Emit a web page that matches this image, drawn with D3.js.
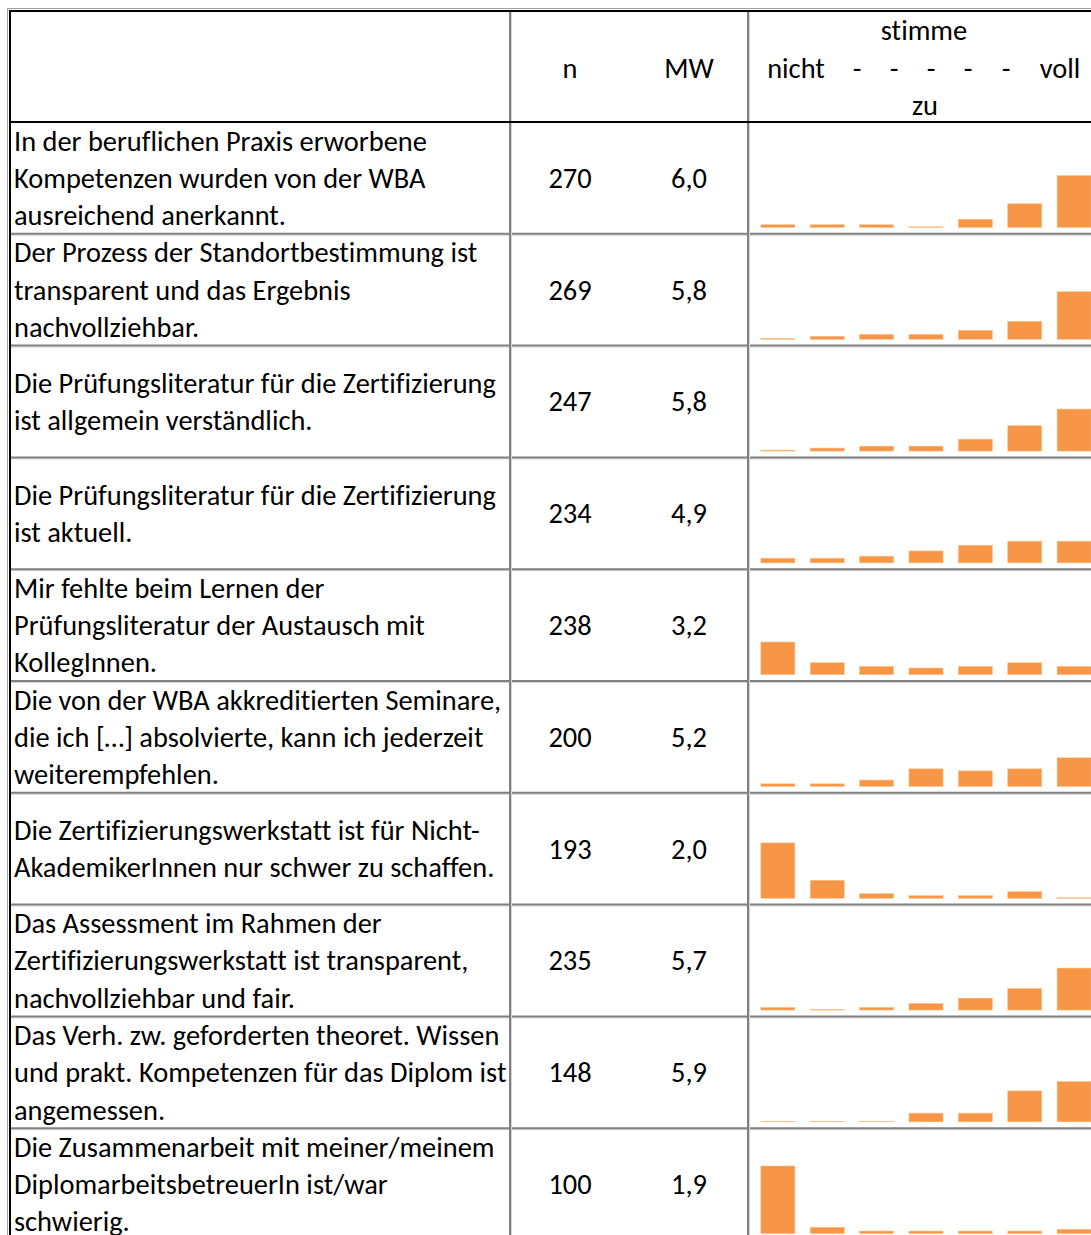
<!DOCTYPE html>
<html>
<head>
<meta charset="utf-8">
<script src="https://cdn.jsdelivr.net/npm/d3@7"></script>
<style>
  body { margin: 0; background: #fff; }
  svg text { font-family: Carlito, Calibri, Lato, sans-serif; fill: #000; font-variant-ligatures: none; }
</style>
</head>
<body>
<div id="chart"></div>
<script>
// questionnaire statements, one entry per line of the wrapped cell
var statements = [
  ["In der beruflichen Praxis erworbene", "Kompetenzen wurden von der WBA", "ausreichend anerkannt."],
  ["Der Prozess der Standortbestimmung ist", "transparent und das Ergebnis", "nachvollziehbar."],
  ["Die Prüfungsliteratur für die Zertifizierung", "ist allgemein verständlich."],
  ["Die Prüfungsliteratur für die Zertifizierung", "ist aktuell."],
  ["Mir fehlte beim Lernen der", "Prüfungsliteratur der Austausch mit", "KollegInnen."],
  ["Die von der WBA akkreditierten Seminare,", "die ich […] absolvierte, kann ich jederzeit", "weiterempfehlen."],
  ["Die Zertifizierungswerkstatt ist für Nicht-", "AkademikerInnen nur schwer zu schaffen."],
  ["Das Assessment im Rahmen der", "Zertifizierungswerkstatt ist transparent,", "nachvollziehbar und fair."],
  ["Das Verh. zw. geforderten theoret. Wissen", "und prakt. Kompetenzen für das Diplom ist", "angemessen."],
  ["Die Zusammenarbeit mit meiner/meinem", "DiplomarbeitsbetreuerIn ist/war", "schwierig."]
];
var counts = [270, 269, 247, 234, 238, 200, 193, 235, 148, 100];
var means = ["6,0", "5,8", "5,8", "4,9", "3,2", "5,2", "2,0", "5,7", "5,9", "1,9"];

// answer distribution in percent, scale 1 (stimme nicht zu) .. 7 (stimme voll zu)
var scalePoints = [1, 2, 3, 4, 5, 6, 7];
var distributions = [
  [3.0, 3.0, 3.0, 0.8, 9.0, 25.8, 56.5],
  [1.1, 3.3, 5.4, 5.4, 9.8, 19.6, 51.8],
  [1.1, 3.3, 5.4, 5.4, 13.0, 27.6, 45.7],
  [5.1, 5.1, 7.3, 13.0, 19.2, 23.6, 23.6],
  [35.5, 13.0, 9.1, 7.3, 9.1, 13.0, 9.1],
  [2.9, 2.9, 7.0, 19.2, 17.0, 19.2, 31.2],
  [60.2, 19.6, 5.1, 2.9, 2.9, 7.3, 0.7],
  [2.9, 0.8, 2.9, 7.3, 13.0, 23.6, 45.7],
  [0.6, 0.6, 0.6, 9.5, 9.5, 33.7, 43.9],
  [73.6, 7.0, 2.9, 2.9, 2.9, 2.9, 4.8]
];
var headerTop = "stimme";
var headerScale = ["nicht", "-", "-", "-", "-", "-", "voll"];
var headerBottom = "zu";

var W = 1091, H = 1235;
var top0 = 11, headerBottomY = 122, rowH = 111.8;
var xLeft = 10, xN = 510, xMW = 630, xBars = 748;
var lineH = 37.3;

var svg = d3.select('#chart').append('svg')
    .attr('width', W).attr('height', H);

// fit the font size so a reference line has the same width as the original
var probe = svg.append('text').attr('font-size', 24).text(statements[0][0]);
var fs = 24 * 413 / probe.node().getComputedTextLength();
probe.remove();

var x = d3.scaleBand().domain(scalePoints)
    .range([xBars, xBars + 356]).paddingInner(0.31).paddingOuter(0.26);
var h = d3.scaleLinear().domain([0, 100]).range([0, 92]);

var rowTop = function(i) { return headerBottomY + i * rowH; };

// header
var hc = (top0 + headerBottomY) / 2;
svg.append('text').attr('x', (xN + xMW) / 2).attr('y', hc + 11)
    .attr('text-anchor', 'middle').attr('font-size', fs).text('n');
svg.append('text').attr('x', (xMW + xBars) / 2).attr('y', hc + 11)
    .attr('text-anchor', 'middle').attr('font-size', fs).text('MW');
svg.append('text').attr('x', 924).attr('y', hc + 11 - 37.5)
    .attr('text-anchor', 'middle').attr('font-size', fs).text(headerTop);
svg.append('text').attr('x', 925).attr('y', hc + 11 + 37.5)
    .attr('text-anchor', 'middle').attr('font-size', fs).text(headerBottom);
var headerX = [796, 857, 894, 931, 968, 1006, 1060];
svg.selectAll('.hscale').data(headerScale).enter().append('text')
    .attr('class', 'hscale')
    .attr('x', function(d, i) { return headerX[i]; })
    .attr('y', hc + 11)
    .attr('text-anchor', 'middle').attr('font-size', fs)
    .text(function(d) { return d; });

// rows
var rows = svg.selectAll('.row').data(statements).enter().append('g')
    .attr('class', 'row')
    .attr('transform', function(d, i) { return 'translate(0,' + rowTop(i) + ')'; });

rows.each(function(lines, i) {
    var g = d3.select(this);
    var c = rowH / 2;
    g.selectAll('.stmt').data(lines).enter().append('text')
        .attr('class', 'stmt')
        .attr('x', 14)
        .attr('y', function(d, k) { return c + (k - (lines.length - 1) / 2) * lineH + 10; })
        .attr('font-size', fs)
        .text(function(d) { return d; });
    g.append('text').attr('x', (xN + xMW) / 2).attr('y', c + 10)
        .attr('text-anchor', 'middle').attr('font-size', fs).text(counts[i]);
    g.append('text').attr('x', (xMW + xBars) / 2).attr('y', c + 10)
        .attr('text-anchor', 'middle').attr('font-size', fs).text(means[i]);

    var base = rowH - 6.3;
    g.selectAll('rect').data(distributions[i]).enter().append('rect')
        .attr('x', function(d, k) { return x(scalePoints[k]); })
        .attr('width', x.bandwidth())
        .attr('y', function(d) { return base - h(d); })
        .attr('height', function(d) { return h(d); })
        .attr('fill', '#F79646')
        .attr('stroke', '#FAC58E')
        .attr('stroke-width', 0.6);
});

// grid lines
var gridY = d3.range(1, statements.length).map(function(i) { return rowTop(i); });
svg.selectAll('.hlight').data(gridY).enter().append('line')
    .attr('x1', xLeft).attr('x2', W).attr('y1', function(d) { return d + 1.5; }).attr('y2', function(d) { return d + 1.5; })
    .attr('stroke', '#d4d4d4').attr('stroke-width', 1);
svg.selectAll('.hgrid').data(gridY).enter().append('line')
    .attr('x1', xLeft).attr('x2', W).attr('y1', function(d) { return d; }).attr('y2', function(d) { return d; })
    .attr('stroke', '#808080').attr('stroke-width', 2);

[xN, xBars].forEach(function(vx) {
    svg.append('line').attr('x1', vx + 1.5).attr('x2', vx + 1.5).attr('y1', top0).attr('y2', H)
        .attr('stroke', '#d4d4d4').attr('stroke-width', 1);
    svg.append('line').attr('x1', vx).attr('x2', vx).attr('y1', top0).attr('y2', H)
        .attr('stroke', '#808080').attr('stroke-width', 2);
});

// outer black borders
svg.append('line').attr('x1', 7.5).attr('x2', W).attr('y1', 8.5).attr('y2', 8.5)
    .attr('stroke', '#a0a0a0').attr('stroke-width', 1);
svg.append('line').attr('x1', 7.5).attr('x2', 7.5).attr('y1', 8.5).attr('y2', H)
    .attr('stroke', '#a0a0a0').attr('stroke-width', 1);
svg.append('line').attr('x1', xLeft - 1).attr('x2', W).attr('y1', top0).attr('y2', top0)
    .attr('stroke', '#000').attr('stroke-width', 2);
svg.append('line').attr('x1', xLeft - 1).attr('x2', W).attr('y1', headerBottomY).attr('y2', headerBottomY)
    .attr('stroke', '#000').attr('stroke-width', 2);
svg.append('line').attr('x1', xLeft).attr('x2', xLeft).attr('y1', top0 - 1).attr('y2', H)
    .attr('stroke', '#000').attr('stroke-width', 2);
</script>
</body>
</html>
